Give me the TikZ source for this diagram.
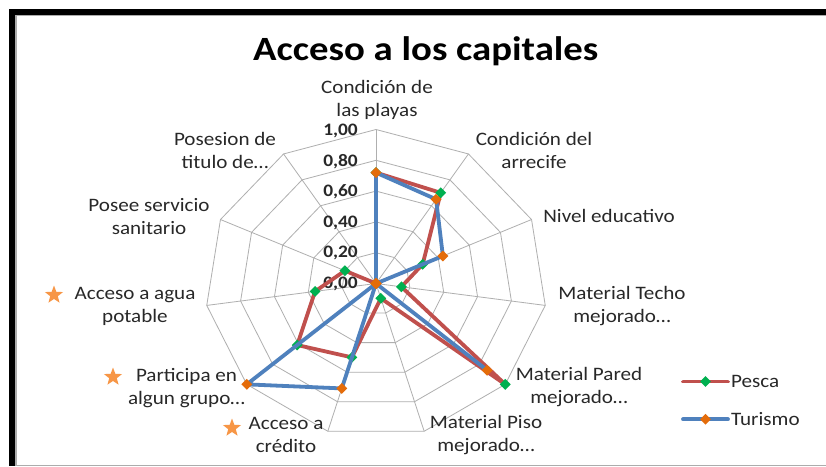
\documentclass[tikz,border=0pt]{standalone}
\usepackage{fontspec}
\setmainfont{Carlito}[FakeStretch=1.11]
\newfontfamily\titlefont{Carlito}[FakeStretch=1.14]
\usetikzlibrary{shapes.geometric}
\definecolor{pescared}{RGB}{192,80,77}
\definecolor{turblue}{RGB}{79,129,189}
\definecolor{mkgreen}{RGB}{0,176,80}
\definecolor{mkorange}{RGB}{228,108,10}
\definecolor{starorange}{RGB}{247,150,70}
\definecolor{gridgray}{RGB}{175,175,175}
\definecolor{txt}{RGB}{40,40,40}
\begin{document}
\begin{tikzpicture}[x=1pt,y=-1pt,
  lbl/.style={font=\fontsize{19}{23}\selectfont, text=txt, align=center, inner sep=0pt},
  tick/.style={font=\fontsize{17.5}{19}\selectfont\bfseries, text=txt, anchor=east, inner sep=0pt},
  gridline/.style={draw=gridgray, line width=0.8pt},
  pline/.style={draw=pescared, line width=3.8pt, line join=round, line cap=round},
  tline/.style={draw=turblue, line width=3.8pt, line join=round, line cap=round},
  gmark/.style={diamond, fill=mkgreen, inner sep=0pt, minimum size=11pt},
  omark/.style={diamond, fill=mkorange, inner sep=0pt, minimum size=11pt},
  starmark/.style={star, star points=5, star point ratio=2.4, fill=starorange, inner sep=0pt, minimum size=19pt},
  frameblk/.style={fill=black},
  framegry/.style={fill=gray!65},
]
\useasboundingbox (0,0) rectangle (826,466);
\fill[white] (0,0) rectangle (826,466);
% frame
\fill[frameblk] (9,9) rectangle (826,15);
\fill[frameblk] (9,9) rectangle (15,466);
\fill[framegry] (15,15) rectangle (17,466);
\fill[framegry] (15,15) rectangle (826,16);
\fill[framegry] (15,464.5) rectangle (826,466);
% title
\node[anchor=base, inner sep=0pt, font=\titlefont\bfseries\fontsize{34}{40}\selectfont] (title) at (425.8,60) {Acceso a los capitales};
% radar
\begin{scope}[shift={(376,283.5)}]
\begin{scope}[x=171pt,y=154pt]
  \foreach \r in {0.2,0.4,0.6,0.8,1.0}
    \draw[gridline] (90:\r) \foreach \k in {1,...,10}{ -- ({90-\k*360/11}:\r)} -- cycle;
  \foreach \k in {0,...,10}
    \draw[gridline] (0,0) -- ({90-\k*360/11}:1);
  \foreach \v [count=\k from 0] in {0.72,0.70,0.30,0.15,1.00,0.10,0.50,0.61,0.36,0.20,0}
    \coordinate (p\k) at ({90-\k*360/11}:\v);
  \foreach \v [count=\k from 0] in {0.72,0.65,0.43,0,0.86,0,0.71,1.00,0,0,0}
    \coordinate (t\k) at ({90-\k*360/11}:\v);
\end{scope}
\end{scope}
% tick labels
\node[tick] (tk0) at (358,283.5) {0,00};
\node[tick] (tk2) at (358,253) {0,20};
\node[tick] (tk4) at (358,222.5) {0,40};
\node[tick] (tk6) at (358,191.7) {0,60};
\node[tick] (tk8) at (358,161.5) {0,80};
\node[tick] (tk10) at (358,131) {1,00};
% series Pesca
\draw[pline] (p0) -- (p1) -- (p2) -- (p3) -- (p4) -- (p5) -- (p6) -- (p7) -- (p8) -- (p9) -- (p10) -- cycle;
\foreach \k in {0,...,10} \node[gmark] (pm\k) at (p\k) {};
% series Turismo
\draw[tline] (t0) -- (t1) -- (t2) -- (t3) -- (t4) -- (t5) -- (t6) -- (t7) -- (t8) -- (t9) -- (t10) -- cycle;
\foreach \k in {0,...,10} \node[omark] (tm\k) at (t\k) {};
% category labels
\node[lbl] (Lplayas) at (377,99.7) {Condición de\\las playas};
\node[lbl] (Larrecife) at (534,150) {Condición del\\arrecife};
\node[lbl] (Lnivel) at (609,216) {Nivel educativo};
\node[lbl] (Ltecho) at (622,306.3) {Material Techo\\mejorado…};
\node[lbl] (Lpared) at (579,387.5) {Material Pared\\mejorado…};
\node[lbl] (Lpiso) at (486,435) {Material Piso\\mejorado…};
\node[lbl] (Lcredito) at (286,435) {Acceso a\\crédito};
\node[lbl] (Lgrupo) at (186.5,388) {Participa en\\algun grupo…};
\node[lbl] (Lagua) at (135,306) {Acceso a agua\\potable};
\node[lbl] (Lsanit) at (149,216.5) {Posee servicio\\sanitario};
\node[lbl] (Ltitulo) at (225,150) {Posesion de\\titulo de…};
% stars
\node[starmark] (s1) at (54,295) {};
\node[starmark] (s2) at (113,377) {};
\node[starmark] (s3) at (232,428) {};
% legend
\coordinate (lpa) at (683,381.5);
\coordinate (lpb) at (728,381.5);
\draw[pline] (lpa) -- (lpb);
\node[gmark] (lpm) at (705.5,381.5) {};
\node[lbl, anchor=west] (lpt) at (731,381.5) {Pesca};
\coordinate (lta) at (683,419.3);
\coordinate (ltb) at (728,419.3);
\draw[tline] (lta) -- (ltb);
\node[omark] (ltm) at (705.5,419.3) {};
\node[lbl, anchor=west] (ltt) at (731,419.3) {Turismo};
\end{tikzpicture}
\end{document}
